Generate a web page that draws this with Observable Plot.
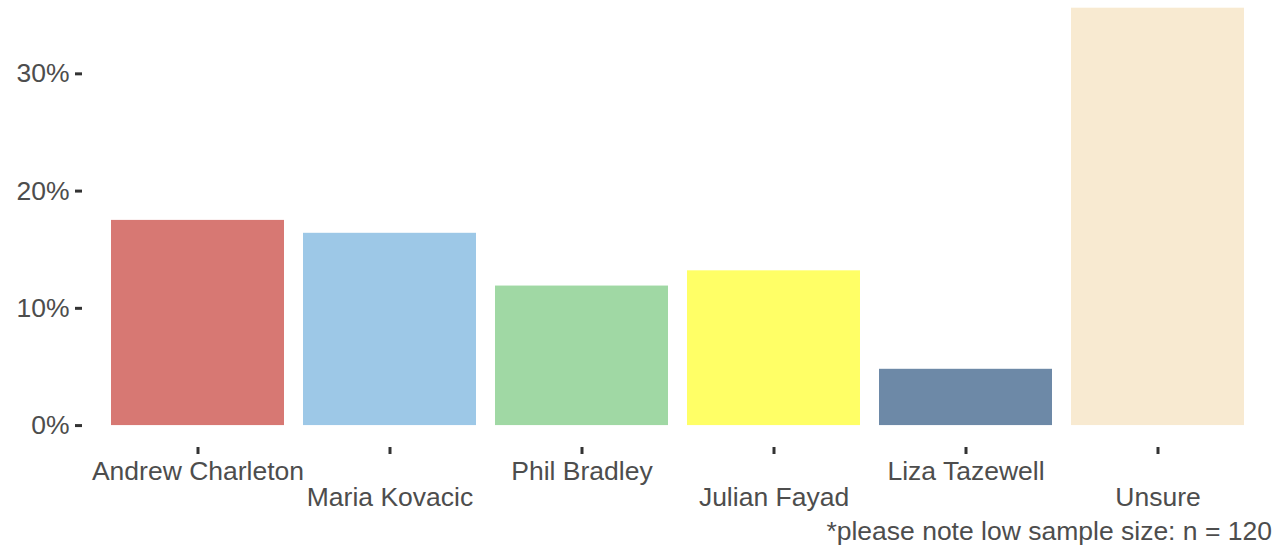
<!DOCTYPE html>
<html>
<head>
<meta charset="utf-8">
<script src="https://cdn.jsdelivr.net/npm/d3@7"></script>
<script src="https://cdn.jsdelivr.net/npm/@observablehq/plot@0.6"></script>
<style>
  html, body { margin: 0; padding: 0; background: #fff; overflow: hidden; }
  #caption { font-family: "Liberation Sans", Arial, sans-serif; font-size: 26.5px; line-height: 30px; color: #4d4d4d; text-align: right; padding-right: 6px; width: 1272px; }
</style>
</head>
<body>
<div id="chart"></div>
<div id="caption">*please note low sample size: n = 120</div>
<script>
const candidates = ["Andrew Charleton", "Maria Kovacic", "Phil Bradley", "Julian Fayad", "Liza Tazewell", "Unsure"];
const shares = [17.5, 16.4, 11.9, 13.2, 4.8, 35.6];
const barColors = ["#d77873", "#9dc8e7", "#a0d8a4", "#ffff66", "#6d89a7", "#f8ead1"];
const yTicks = [0, 10, 20, 30];
const row1 = candidates.filter((d, i) => i % 2 === 0);
const row2 = candidates.filter((d, i) => i % 2 === 1);

const data = candidates.map((c, i) => ({candidate: c, share: shares[i]}));

const chart = Plot.plot({
  width: 1278,
  height: 516,
  marginTop: 3,
  marginLeft: 82,
  marginRight: 5,
  marginBottom: 69,
  style: {fontFamily: "Liberation Sans, Arial, sans-serif", fontSize: "26.5px", color: "#4d4d4d", background: "white"},
  x: {domain: candidates, paddingInner: 0.1, paddingOuter: 0.15, label: null},
  y: {domain: [-1.87, 36], label: null},
  color: {domain: candidates, range: barColors},
  marks: [
    Plot.barY(data, {x: "candidate", y1: 0, y2: "share", fill: "candidate"}),
    Plot.axisY({ticks: yTicks, tickFormat: d => d + "%", tickSize: 7, tickPadding: 6, strokeWidth: 3, stroke: "#333333", fill: "#4d4d4d", label: null}),
    Plot.axisX({tickSize: 7, tickFormat: () => "", strokeWidth: 3, stroke: "#333333", label: null}),
    Plot.axisX({ticks: row1, tickSize: 0, tickPadding: 14, fill: "#4d4d4d", label: null}),
    Plot.axisX({ticks: row2, tickSize: 0, tickPadding: 40, fill: "#4d4d4d", label: null})
  ]
});
document.getElementById("chart").appendChild(chart);
</script>
</body>
</html>
